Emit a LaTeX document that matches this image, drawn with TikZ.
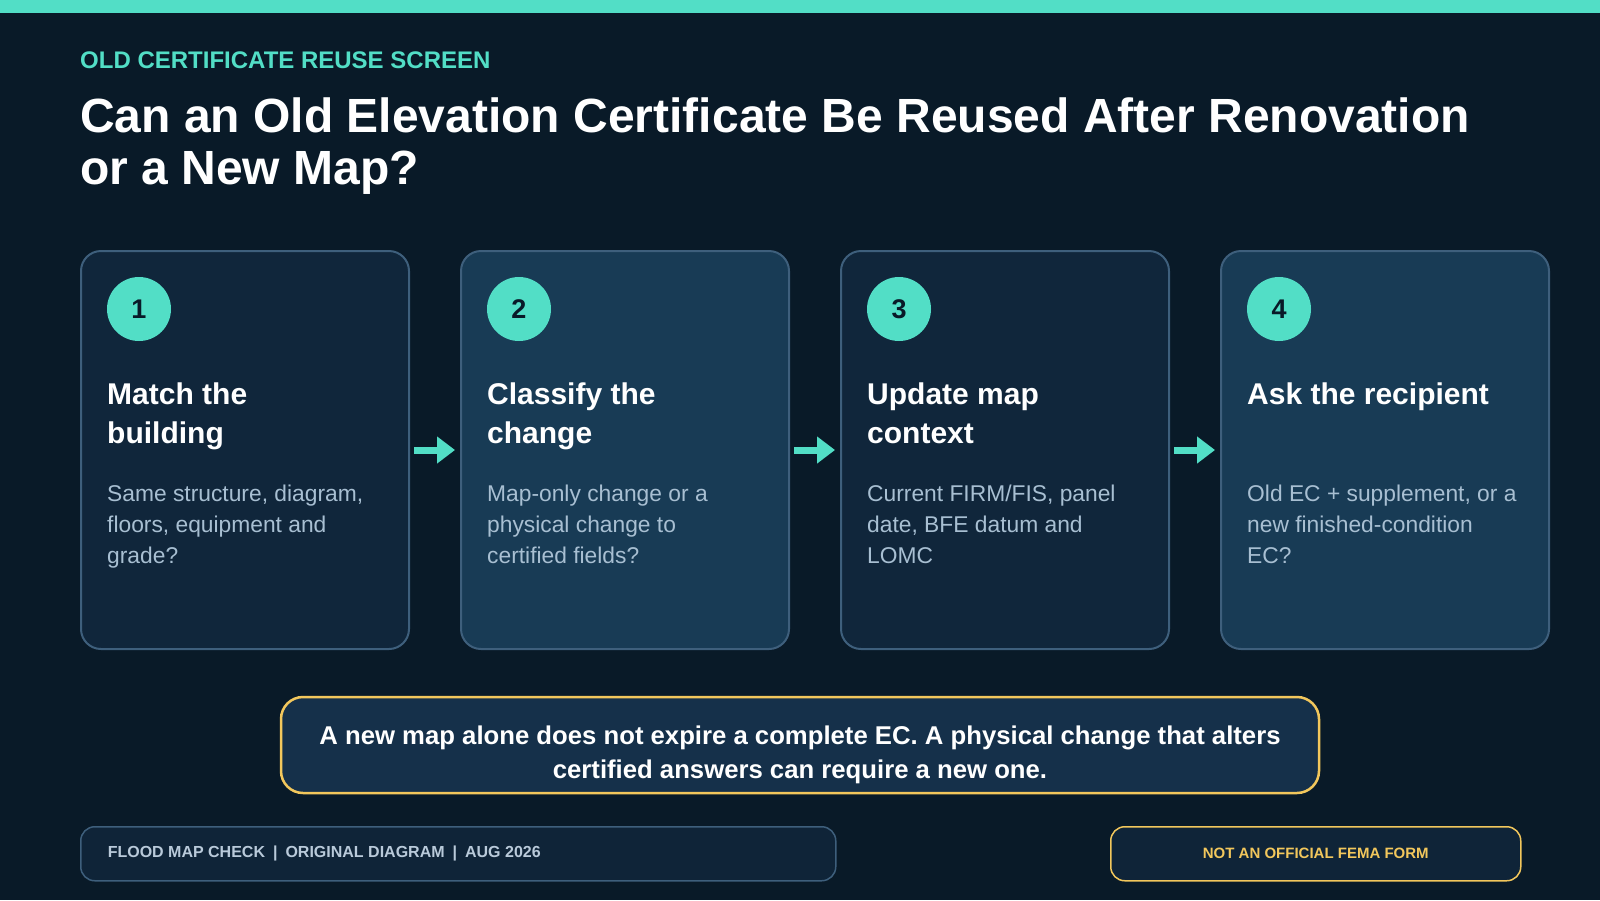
\documentclass[tikz,border=0pt]{standalone}
\usepackage{fontspec}
\setmainfont{Liberation Sans}
\usepackage{xcolor}
\usetikzlibrary{arrows.meta,positioning,calc}
\definecolor{pagebg}{HTML}{091A28}
\definecolor{accent}{HTML}{52DEC6}
\definecolor{cardedge}{HTML}{3E5F7C}
\definecolor{carddark}{HTML}{10263B}
\definecolor{cardlight}{HTML}{183B55}
\definecolor{bodytext}{HTML}{A8BFD2}
\definecolor{warnyellow}{HTML}{F2C75C}
\definecolor{calloutfill}{HTML}{15304A}
\definecolor{footfill}{HTML}{0F2438}
\definecolor{foottext}{HTML}{B9CADA}
\newcommand{\px}[2]{\fontsize{#1}{#2}\selectfont}
\newcommand{\sepbar}{\hspace{8pt}|\hspace{8pt}}
\tikzset{
  >=Latex,
  card/.style      = {draw=cardedge, line width=2pt, rounded corners=20pt, minimum width=328pt, minimum height=398pt, inner sep=0pt},
  badge/.style     = {circle, fill=accent, minimum size=64pt, inner sep=0pt, font=\px{27}{30}\bfseries, text=pagebg},
  steptitle/.style = {anchor=base west, inner sep=0pt, align=flush left, text width=290pt, font=\px{30}{39}\bfseries, text=white},
  stepbody/.style  = {anchor=base west, inner sep=0pt, align=flush left, text width=295pt, font=\px{22.8}{31}\selectfont, text=bodytext},
  flowarrow/.style = {draw=accent, line width=7pt, -{Triangle[length=18pt,width=26pt]}, shorten <=4pt, shorten >=5pt},
  callout/.style   = {draw=warnyellow, line width=2.5pt, fill=calloutfill, rounded corners=22pt, inner sep=0pt},
  footbox/.style   = {draw=cardedge, line width=1.5pt, fill=footfill, rounded corners=14pt, minimum height=54pt, anchor=north west}
}

\begin{document}
\begin{tikzpicture}[x=1pt, y=-1pt]
  % page and top strip
  \useasboundingbox (0,0) rectangle (1600,900);
  \fill[pagebg] (0,0) rectangle (1600,900);
  \fill[accent] (0,0) rectangle (1600,13);

  %  --  Heading block
  \node[anchor=base west, inner sep=0pt, font=\px{24}{28}\bfseries, text=accent] (kicker) at (80,68) {OLD CERTIFICATE REUSE SCREEN};
  \node[anchor=base west, inner sep=0pt, align=flush left, text width=1480pt, font=\px{48}{52}\bfseries, text=white] (title) at (80,132)
    {Can an Old Elevation Certificate Be Reused After Renovation\\or a New Map?};

  %  --  The four step cards
  \foreach \i/\shade/\head/\body [evaluate=\i as \xx using 81+380*(\i-1)+164] in {
      1/carddark/{Match the\\building}/{Same structure, diagram,\\floors, equipment and\\grade?},
      2/cardlight/{Classify the\\change}/{Map-only change or a\\physical change to\\certified fields?},
      3/carddark/{Update map\\context}/{Current FIRM/FIS, panel\\date, BFE datum and\\LOMC},
      4/cardlight/{Ask the recipient}/{Old EC + supplement, or a\\new finished-condition\\EC?}}{
    \node[card, fill=\shade] (c\i) at (\xx,450) {};
    \node[badge] (n\i) at ($ (c\i.north west) + (59,59) $) {\i};
    \node[steptitle] (h\i) at ($ (c\i.north west) + (27,154) $) {\head};
    \node[stepbody]  (b\i) at ($ (c\i.north west) + (27,251) $) {\body};
  }

  %  --  Flow arrows between cards
  \foreach \a/\b in {1/2,2/3,3/4}{
    \draw[flowarrow] (c\a.east) -- (c\b.west);
  }

  %  --  Key rule
  \node[callout, minimum width=1038pt, minimum height=96pt] (rule) at (800,745) {};
  \node[anchor=base, inner sep=0pt, align=flush center, text width=1000pt, font=\px{25.7}{34}\bfseries, text=white] (ruletext) at (800,744)
    {A new map alone does not expire a complete EC. A physical change that alters\\certified answers can require a new one.};

  %  --  Footer tags
  \node[footbox, minimum width=755pt, text width=701pt, inner xsep=27pt, align=flush left, font=\px{16}{18}\bfseries, text=foottext] (credit) at (80,826)
    {FLOOD MAP CHECK\sepbar ORIGINAL DIAGRAM\sepbar AUG 2026};
  \node[footbox, draw=warnyellow, minimum width=410pt, font=\px{15}{18}\bfseries, text=warnyellow] (notice) at (1110,826)
    {NOT AN OFFICIAL FEMA FORM};
\end{tikzpicture}
\end{document}
